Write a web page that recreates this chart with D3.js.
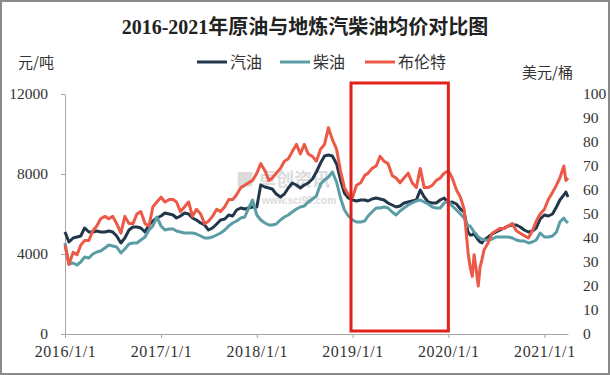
<!DOCTYPE html>
<html>
<head>
<meta charset="utf-8">
<script src="https://cdn.jsdelivr.net/npm/d3@7"></script>
<style>
  body { margin: 0; background: #fff; }
  svg { display: block; }
</style>
</head>
<body>
<svg id="chart" width="610" height="375"></svg>
<script>
// semi-monthly samples (a few extra points in spring 2020 and March 2021)
const dates = [
  "2016-01-01","2016-01-16","2016-02-01","2016-02-16","2016-03-01","2016-03-16","2016-04-01","2016-04-16","2016-05-01","2016-05-16","2016-06-01","2016-06-16",
  "2016-07-01","2016-07-16","2016-08-01","2016-08-16","2016-09-01","2016-09-16","2016-10-01","2016-10-16","2016-11-01","2016-11-16","2016-12-01","2016-12-16",
  "2017-01-01","2017-01-16","2017-02-01","2017-02-16","2017-03-01","2017-03-16","2017-04-01","2017-04-16","2017-05-01","2017-05-16","2017-06-01","2017-06-16",
  "2017-07-01","2017-07-16","2017-08-01","2017-08-16","2017-09-01","2017-09-16","2017-10-01","2017-10-16","2017-11-01","2017-11-16","2017-12-01","2017-12-16",
  "2018-01-01","2018-01-16","2018-02-01","2018-02-16","2018-03-01","2018-03-16","2018-04-01","2018-04-16","2018-05-01","2018-05-16","2018-06-01","2018-06-16",
  "2018-07-01","2018-07-16","2018-08-01","2018-08-16","2018-09-01","2018-09-16","2018-10-01","2018-10-16","2018-11-01","2018-11-16","2018-12-01","2018-12-16",
  "2019-01-01","2019-01-16","2019-02-01","2019-02-16","2019-03-01","2019-03-16","2019-04-01","2019-04-16","2019-05-01","2019-05-16","2019-06-01","2019-06-16",
  "2019-07-01","2019-07-16","2019-08-01","2019-08-16","2019-09-01","2019-09-16","2019-10-01","2019-10-16","2019-11-01","2019-11-16","2019-12-01","2019-12-16",
  "2020-01-01","2020-01-16","2020-02-01","2020-02-16","2020-03-01","2020-03-16","2020-03-24","2020-04-01","2020-04-08","2020-04-16","2020-04-24","2020-05-01",
  "2020-05-08","2020-05-16","2020-06-01","2020-06-16","2020-07-01","2020-07-16","2020-08-01","2020-08-16","2020-09-01","2020-09-16","2020-10-01","2020-10-16",
  "2020-11-01","2020-11-16","2020-12-01","2020-12-16",
  "2021-01-01","2021-01-16","2021-02-01","2021-02-16","2021-03-01","2021-03-16","2021-03-24","2021-04-01"
];

// 汽油, 元/吨
const gasoline = [
  5100,4600,4800,4850,4900,5300,5100,5100,5150,5100,5100,5150,5100,4900,4550,4800,5200,5350,5350,5300,5100,5450,5650,5800,
  5900,6050,6000,5950,5800,5900,6050,6000,5800,5700,5550,5450,5200,5300,5500,5700,5750,5950,5900,6200,6300,6250,6300,6350,
  6350,7450,7350,7300,7250,7000,6850,7000,7300,7550,7450,7300,7450,7550,7750,8100,8550,8900,8950,8900,8500,7700,7050,6800,
  6700,6650,6700,6700,6650,6750,6800,6750,6700,6550,6450,6350,6400,6550,6600,6650,6700,7200,6850,6600,6550,6550,6700,6800,
  6550,6600,6500,6250,6100,5100,4950,4950,5050,4850,4700,4600,4550,4700,4850,5000,5100,5200,5300,5400,5450,5450,5350,5200,5100,5150,5300,5750,
  5950,5900,6000,6350,6700,6950,7100,6850
];

// 柴油, 元/吨
const diesel = [
  4550,3500,3550,3450,3600,3850,3800,4000,4100,4150,4300,4450,4400,4350,4050,4250,4500,4550,4550,4700,4850,5200,5400,5850,
  5400,5200,5250,5250,5150,5100,5050,5050,5050,5000,4900,4800,4800,4850,4950,5050,5200,5400,5550,5650,5800,5850,6300,6700,
  5950,5700,5550,5450,5450,5500,5700,5850,5950,6100,6250,6350,6400,6600,6750,6900,7500,7700,7850,8100,7600,6800,6200,5900,
  5700,5600,5600,5650,5900,6100,6300,6300,6350,6300,6100,5950,6150,6300,6450,6550,6650,6700,6600,6500,6350,6300,6300,6550,
  6650,6400,6200,6000,5800,5400,5400,5250,5100,5000,4850,4800,4750,4700,4700,4750,4850,4850,4850,4850,4800,4700,4650,4650,4550,4600,4700,5050,
  4850,4850,4900,5100,5600,5800,5650,5550
];

// 布伦特, 美元/桶
const brent = [
  37,29,34,33,37,39,39,43,45,48,49,48,49,46,42,49,46,46,50,51,46,45,53,55,
  57,55,56,56,55,51,53,55,49,52,50,46,47,49,52,51,53,56,56,58,61,62,63,64,
  67,71,68,64,65,67,69,72,73,76,79,75,79,75,74,72,77,79,86,81,77,68,61,58,
  57,62,63,66,67,69,70,74,72,71,66,65,63,65,67,63,61,69,61,61,62,64,65,67,
  68,65,60,57,52,34,28,24,33,27,20,28,31,35,38,42,43,44,44,45,46,43,42,41,40,43,47,50,
  52,56,59,62,65,70,64,65
];

const seriesNames = ["汽油", "柴油", "布伦特"];
const seriesColors = ["#22374b", "#5a9da5", "#ec5946"];
const xTicks = ["2016-01-01","2017-01-01","2018-01-01","2019-01-01","2020-01-01","2021-01-01"];
const leftTicks = [0, 4000, 8000, 12000];
const rightTicks = [0, 10, 20, 30, 40, 50, 60, 70, 80, 90, 100];
const highlight = ["2018-12-26", "2020-01-01"];

const width = 610, height = 375;
const margin = { top: 94, right: 42, bottom: 41, left: 65 };
const serif = "'Liberation Serif', 'Noto Sans CJK SC', serif";
const cjk = "'Noto Sans CJK SC', sans-serif";

const parse = d3.timeParse("%Y-%m-%d");
const rows = dates.map((d, i) => ({
  date: parse(d), g: gasoline[i], d: diesel[i], b: brent[i]
}));

const svg = d3.select("#chart");

svg.append("rect")
  .attr("x", 1).attr("y", 1)
  .attr("width", width - 2).attr("height", height - 2)
  .attr("fill", "#fff")
  .attr("stroke", "#8a8a8a")
  .attr("stroke-width", 2);

const x = d3.scaleTime()
  .domain([parse(dates[0]), parse(dates[dates.length - 1])])
  .range([margin.left, width - margin.right]);

const yL = d3.scaleLinear()
  .domain([0, 12000])
  .range([height - margin.bottom, margin.top]);

const yR = d3.scaleLinear()
  .domain([0, 100])
  .range([height - margin.bottom, margin.top]);

// watermark
const wm = svg.append("g").attr("opacity", 0.35);
wm.append("text")
  .attr("x", 236).attr("y", 186)
  .attr("font-family", cjk).attr("font-size", 18).attr("font-weight", "bold")
  .attr("fill", "#9a9a9a")
  .text("■ 卓创资讯");
wm.append("text")
  .attr("x", 262).attr("y", 204)
  .attr("font-family", "'Liberation Sans', sans-serif").attr("font-size", 10).attr("font-weight", "bold")
  .attr("fill", "#9a9a9a")
  .text("www.sci99.com");

// axes
const xAxis = svg.append("g")
  .attr("transform", `translate(0, ${height - margin.bottom})`)
  .call(d3.axisBottom(x)
    .tickValues(xTicks.map(parse))
    .tickFormat(d3.timeFormat("%Y/%-m/%-d"))
    .tickSize(4)
    .tickSizeOuter(0)
    .tickPadding(5));

const leftAxis = svg.append("g")
  .attr("transform", `translate(${margin.left}, 0)`)
  .call(d3.axisLeft(yL)
    .tickValues(leftTicks)
    .tickFormat(d3.format("d"))
    .tickSize(4)
    .tickSizeOuter(0)
    .tickPadding(13));

const rightAxis = svg.append("g")
  .attr("transform", `translate(583, 0)`)
  .call(d3.axisRight(yR)
    .tickValues(rightTicks)
    .tickSize(0)
    .tickPadding(0));
rightAxis.select(".domain").remove();

[xAxis, leftAxis, rightAxis].forEach(a => {
  a.selectAll(".domain, .tick line").attr("stroke", "#a6a6a6");
  a.selectAll("text")
    .attr("font-family", serif)
    .attr("font-size", 15.5)
    .attr("fill", "#333");
});
xAxis.selectAll("text").attr("font-size", 16).attr("letter-spacing", 0.6).attr("dy", "0.85em");

// lines
const lineG = d3.line().x(d => x(d.date)).y(d => yL(d.g));
const lineD = d3.line().x(d => x(d.date)).y(d => yL(d.d));
const lineB = d3.line().x(d => x(d.date)).y(d => yR(d.b));

[lineG, lineD, lineB].forEach((ln, i) => {
  svg.append("path")
    .datum(rows)
    .attr("fill", "none")
    .attr("stroke", seriesColors[i])
    .attr("stroke-width", 3)
    .attr("stroke-linejoin", "round")
    .attr("d", ln);
});

// highlight box
svg.append("rect")
  .attr("x", x(parse(highlight[0])))
  .attr("y", yL(12550))
  .attr("width", x(parse(highlight[1])) - x(parse(highlight[0])))
  .attr("height", yL(150) - yL(12550))
  .attr("fill", "none")
  .attr("stroke", "#e0211c")
  .attr("stroke-width", 3);

// title
svg.append("text")
  .attr("x", 305).attr("y", 34)
  .attr("text-anchor", "middle")
  .attr("font-family", serif)
  .attr("font-size", 20)
  .attr("font-weight", "bold")
  .attr("fill", "#222")
  .text("2016-2021年原油与地炼汽柴油均价对比图");

// units
svg.append("text")
  .attr("x", 18).attr("y", 68)
  .attr("font-family", cjk).attr("font-size", 15).attr("fill", "#333")
  .text("元/吨");
svg.append("text")
  .attr("x", 522).attr("y", 78)
  .attr("font-family", cjk).attr("font-size", 15).attr("fill", "#333")
  .text("美元/桶");

// legend
const legendX = [197, 280, 365];
const legend = svg.append("g");
seriesNames.forEach((name, i) => {
  legend.append("line")
    .attr("x1", legendX[i]).attr("x2", legendX[i] + 30)
    .attr("y1", 62).attr("y2", 62)
    .attr("stroke", seriesColors[i])
    .attr("stroke-width", 3);
  legend.append("text")
    .attr("x", legendX[i] + 33).attr("y", 68)
    .attr("font-family", cjk).attr("font-size", 16).attr("fill", "#333")
    .text(name);
});
</script>
</body>
</html>
